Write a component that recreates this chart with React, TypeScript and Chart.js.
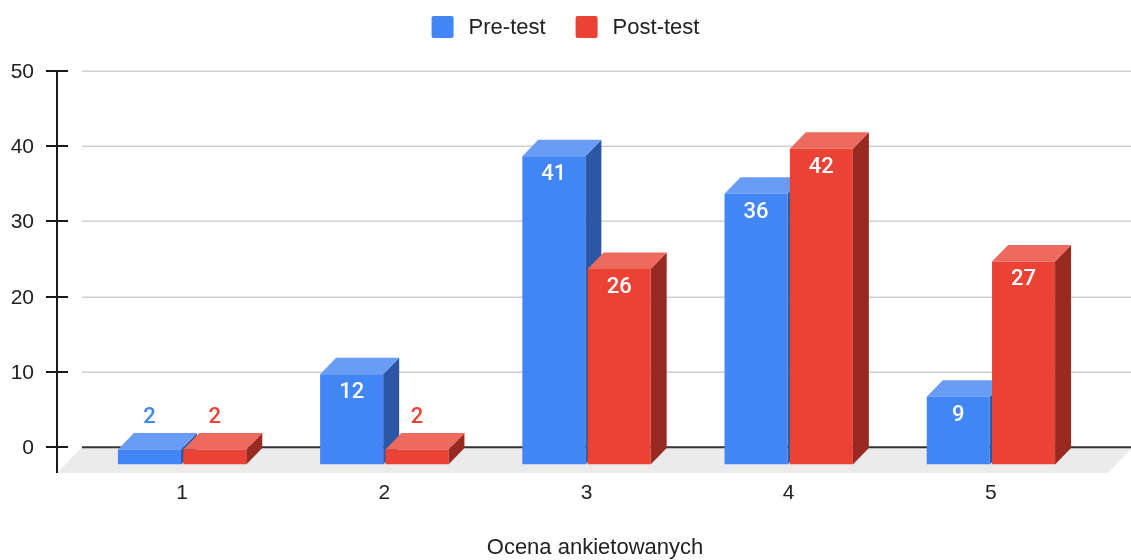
import { useEffect, useRef } from 'react';
import { Chart, registerables } from 'chart.js';

Chart.register(...registerables);

// Survey ratings, counts per rating before and after
const categories = ['1', '2', '3', '4', '5'];
const preTest = [2, 12, 41, 36, 9];
const postTest = [2, 2, 26, 42, 27];
const yTicks = [0, 10, 20, 30, 40, 50];
const seriesNames = ['Pre-test', 'Post-test'];
const axisTitle = 'Ocena ankietowanych';

// face colours per series: front, top, right side
const FRONT = ['#4285f4', '#ea4335'];
const TOP = ['#699cf5', '#ec6a5e'];
const SIDE = ['#2b57a4', '#982a22'];

// oblique depth of bars, of the back wall and of the floor
const BAR_DX = 16;
const BAR_DY = 16.5;
const WALL = 17.5;
const FLOOR_DX = 25;
const FLOOR_DY = 26;

const TEXT_FONT = '"Liberation Sans", Arial, Helvetica, sans-serif';
const LABEL_FONT = 'Roboto, "Liberation Sans", Arial, sans-serif';

const scene3d = {
  id: 'scene3d',
  beforeDatasetsDraw(chart: any) {
    const { ctx, chartArea, scales } = chart;
    const y = scales.y;
    const wallY = (v: number) => y.getPixelForValue(v) - WALL;
    const left = chartArea.left + 1;
    const right = chart.width;
    const zeroY = wallY(0);

    ctx.save();
    // floor
    ctx.fillStyle = '#ebebeb';
    ctx.beginPath();
    ctx.moveTo(left, zeroY);
    ctx.lineTo(right + 2, zeroY);
    ctx.lineTo(right + 2 - FLOOR_DX, zeroY + FLOOR_DY);
    ctx.lineTo(left - FLOOR_DX, zeroY + FLOOR_DY);
    ctx.closePath();
    ctx.fill();

    // back-wall gridlines
    yTicks.forEach((t) => {
      const py = Math.round(wallY(t)) + 0.25;
      ctx.strokeStyle = t === 0 ? '#333333' : '#cfcfcf';
      ctx.lineWidth = t === 0 ? 1.8 : 1.5;
      ctx.beginPath();
      ctx.moveTo(left, py);
      ctx.lineTo(right, py);
      ctx.stroke();
    });

    // vertical axis with cross ticks
    const axisX = left - FLOOR_DX;
    ctx.strokeStyle = '#1a1a1a';
    ctx.lineWidth = 2;
    ctx.beginPath();
    ctx.moveTo(axisX, wallY(yTicks[yTicks.length - 1]) - 1);
    ctx.lineTo(axisX, zeroY + FLOOR_DY);
    ctx.stroke();
    ctx.fillStyle = '#222222';
    ctx.font = `21px ${TEXT_FONT}`;
    ctx.textAlign = 'right';
    ctx.textBaseline = 'middle';
    yTicks.forEach((t) => {
      const py = Math.round(wallY(t));
      ctx.beginPath();
      ctx.moveTo(axisX - 11, py);
      ctx.lineTo(axisX + 11, py);
      ctx.stroke();
      ctx.fillText(String(t), axisX - 23, py + 1);
    });

    // side and top faces of each bar (front faces are drawn by the bar controller)
    chart.data.datasets.forEach((_: any, di: number) => {
      const meta = chart.getDatasetMeta(di);
      meta.data.forEach((bar: any) => {
        const { x, y: top, base, width } = bar.getProps(['x', 'y', 'base', 'width'], true);
        const l = x - width / 2;
        const r = x + width / 2;
        ctx.fillStyle = SIDE[di];
        ctx.beginPath();
        ctx.moveTo(r, top);
        ctx.lineTo(r + BAR_DX, top - BAR_DY);
        ctx.lineTo(r + BAR_DX, base - BAR_DY);
        ctx.lineTo(r, base);
        ctx.closePath();
        ctx.fill();
        ctx.fillStyle = TOP[di];
        ctx.beginPath();
        ctx.moveTo(l, top);
        ctx.lineTo(r, top);
        ctx.lineTo(r + BAR_DX, top - BAR_DY);
        ctx.lineTo(l + BAR_DX, top - BAR_DY);
        ctx.closePath();
        ctx.fill();
      });
    });
    ctx.restore();
  },
  afterDatasetsDraw(chart: any) {
    const { ctx, chartArea, scales } = chart;
    const y = scales.y;
    const x = scales.x;
    const zeroY = y.getPixelForValue(0) - WALL;
    ctx.save();

    // value labels
    ctx.textAlign = 'center';
    ctx.textBaseline = 'middle';
    ctx.font = `500 22px ${LABEL_FONT}`;
    chart.data.datasets.forEach((ds: any, di: number) => {
      const meta = chart.getDatasetMeta(di);
      meta.data.forEach((bar: any, i: number) => {
        const { x: bx, y: top, base } = bar.getProps(['x', 'y', 'base'], true);
        const v = ds.data[i];
        if (base - top > 40) {
          ctx.fillStyle = '#ffffff';
          ctx.fillText(String(v), bx, top + 18.5);
        } else {
          ctx.fillStyle = FRONT[di];
          ctx.fillText(String(v), bx, top - 32);
        }
      });
    });

    // category labels
    ctx.fillStyle = '#222222';
    ctx.font = `21px ${TEXT_FONT}`;
    categories.forEach((c, i) => {
      ctx.fillText(c, x.getPixelForValue(i), zeroY + 46);
    });

    // axis title centred under the floor
    const floorL = chartArea.left + 1 - FLOOR_DX;
    const floorR = chart.width + 2;
    ctx.font = `22px ${TEXT_FONT}`;
    ctx.fillText(axisTitle, (floorL + floorR) / 2, zeroY + 101);

    // legend
    ctx.font = `22px ${TEXT_FONT}`;
    const box = 22;
    const gap = 15;
    const itemGap = 30;
    const widths = seriesNames.map((n) => ctx.measureText(n).width);
    const total = widths.reduce((a, w) => a + box + gap + w, 0) + itemGap * (seriesNames.length - 1);
    let lx = chart.width / 2 - total / 2;
    const ly = 27;
    ctx.textAlign = 'left';
    seriesNames.forEach((n, i) => {
      ctx.fillStyle = FRONT[i];
      ctx.beginPath();
      ctx.roundRect(lx, ly - box / 2, box, box, 2);
      ctx.fill();
      ctx.fillStyle = '#222222';
      ctx.fillText(n, lx + box + gap, ly + 1);
      lx += box + gap + widths[i] + itemGap;
    });
    ctx.restore();
  },
};

export default function App() {
  const ref = useRef<HTMLCanvasElement>(null);

  useEffect(() => {
    document.body.style.margin = '0';
    const chart = new Chart(ref.current as HTMLCanvasElement, {
      type: 'bar',
      data: {
        labels: categories,
        datasets: [
          { label: seriesNames[0], data: preTest, backgroundColor: FRONT[0], borderWidth: 0 },
          { label: seriesNames[1], data: postTest, backgroundColor: FRONT[1], borderWidth: 0 },
        ],
      },
      options: {
        responsive: false,
        animation: false,
        devicePixelRatio: 1,
        layout: { padding: { left: 81, right: 39, top: 88.5, bottom: 95.5 } },
        datasets: { bar: { categoryPercentage: 0.646, barPercentage: 0.965 } },
        scales: {
          x: { display: false },
          y: { display: false, min: 0, max: 50 },
        },
        plugins: {
          legend: { display: false },
          tooltip: { enabled: false },
        },
      },
      plugins: [scene3d],
    });
    return () => chart.destroy();
  }, []);

  return (
    <div style={{ width: 1131, height: 560 }}>
      <canvas ref={ref} width={1131} height={560} style={{ display: 'block' }} />
    </div>
  );
}
